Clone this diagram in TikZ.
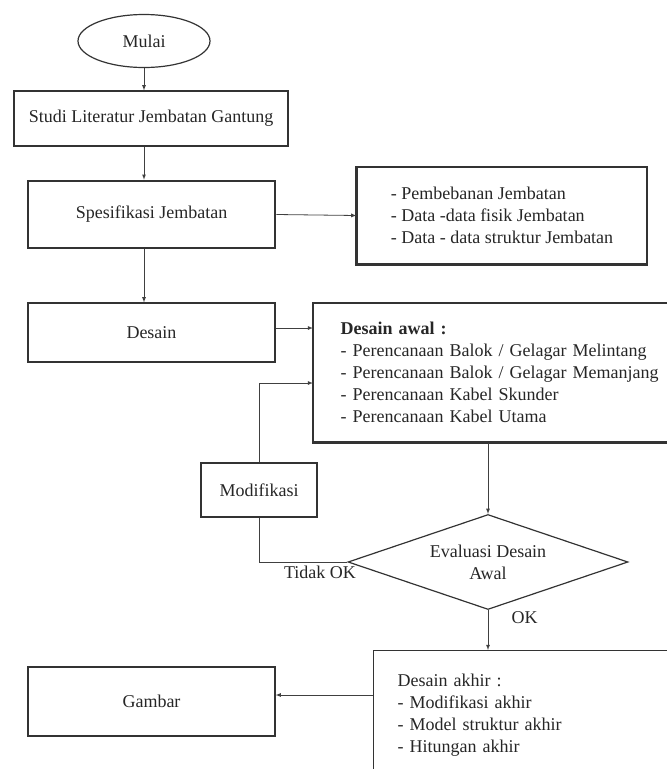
\documentclass[tikz,border=0pt]{standalone}
\usepackage{fontspec}
\setmainfont{Liberation Serif}
\usetikzlibrary{calc}
\usetikzlibrary{positioning}
\usetikzlibrary{shapes}
\usetikzlibrary{arrows}

\begin{document}
\begin{tikzpicture}[x=1pt, y=-1pt,
		label/.style={font=\fontsize{18}{22}\selectfont, text=black!85},
		box/.style={label, rectangle, draw=black!80, line width=1.2pt, inner sep=0pt},
		heavy/.style={line width=2.6pt},
		flow/.style={draw=black!75, line width=0.8pt, ->, >=latex},
		plain/.style={draw=black!75, line width=0.8pt}]
				\useasboundingbox (0,0) rectangle (667,769);
				\clip (0,0) rectangle (667,769);
				
				\node[box, ellipse, minimum width=132, minimum height=53] (mulai) at (144,41) {Mulai};
				\node[box, minimum width=274, minimum height=55] (studi) at (151,118.5) {Studi Literatur Jembatan Gantung};
				\node[box, heavy, minimum width=247, minimum height=67] (spek) at (151.5,214.5) {Spesifikasi Jembatan};
				\node[box, minimum width=290, minimum height=97, align=left] (data) at (502,215.5) {- Pembebanan Jembatan\\- Data -data fisik Jembatan\\- Data - data struktur Jembatan};
				\node[box, minimum width=247, minimum height=59] (desain) at (151.5,332.5) {Desain};
				\node[box, anchor=west, align=left, text width=330, inner xsep=27, minimum height=139] (awal) at (313,372.5) {\textbf{Desain awal :}\\- Perencanaan Balok / Gelagar Melintang\\- Perencanaan Balok / Gelagar Memanjang\\- Perencanaan Kabel Skunder\\- Perencanaan Kabel Utama};
				\node[box, heavy, minimum width=116, minimum height=54] (modif) at (259,490) {Modifikasi};
				\node[box, diamond, aspect=2.95, minimum width=280, minimum height=95, align=center] (eval) at (488,562) {Evaluasi Desain\\Awal};
				\node[box, anchor=north west, align=left, text width=300, inner xsep=24, minimum height=130] (akhir) at (373,650) {Desain akhir :\\- Modifikasi akhir\\- Model struktur akhir\\- Hitungan akhir};
				\node[box, minimum width=247, minimum height=69] (gambar) at (151.5,701.5) {Gambar};
				
				\draw[heavy, black!80] (data.north west) -- (data.south west) -- (data.south east);
				\draw[heavy, black!80] (awal.north west) -- (awal.south west) -- (awal.south east);
				
				\draw[flow] (mulai.south) -- (mulai.south |- studi.north);
				\draw[flow] (mulai.south |- studi.south) -- (mulai.south |- spek.north);
				\draw[flow] (spek.east) -- (data.west);
				\draw[flow] (mulai.south |- spek.south) -- (mulai.south |- desain.north);
				\draw[flow] ($(desain.east)+(0,-4.5)$) -- ($(desain.east -| awal.west)+(0,-4.5)$);
				\draw[flow] (modif.north) |- ($(awal.west)+(0,10.5)$);
				\draw[flow] (eval.north |- awal.south) -- (eval.north);
				\draw[plain] (eval.west) -- node[label, below, pos=0.31] {Tidak OK} (eval.west -| modif.south) -- (modif.south);
				\draw[flow] (eval.south) -- node[label, pos=0.2, right=20pt] {OK} (eval.south |- akhir.north);
				\draw[flow] ($(gambar.east -| akhir.west)+(0,-6.5)$) -- ($(gambar.east)+(0,-6.5)$);
			\end{tikzpicture}
\end{document}
